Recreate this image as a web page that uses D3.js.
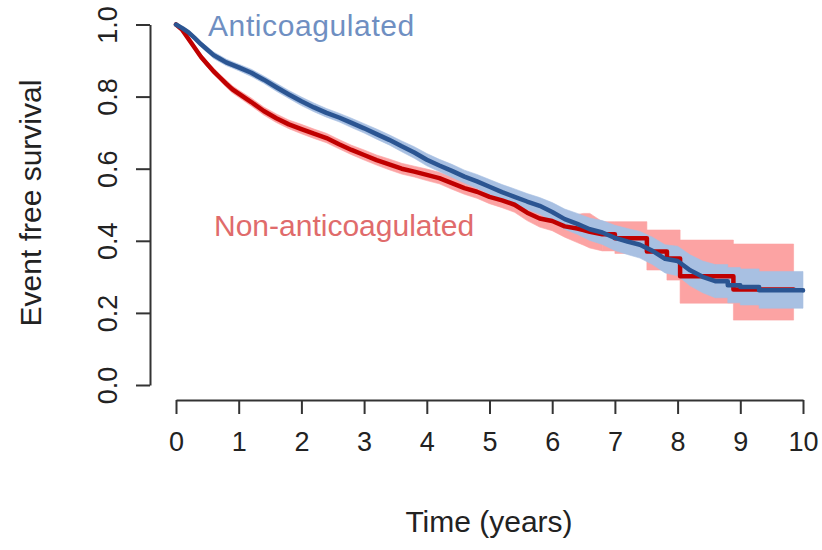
<!DOCTYPE html>
<html>
<head>
<meta charset="utf-8">
<script src="https://cdn.jsdelivr.net/npm/d3@7"></script>
<style>
  body { margin: 0; background: #fff; }
  svg text { font-family: "Liberation Sans", Arial, sans-serif; }
</style>
</head>
<body>
<div id="chart"></div>
<script>
// Anticoagulated group: time (years), survival, lower and upper CI
var antiTime  = [0, 0.1, 0.2, 0.3, 0.4, 0.5, 0.6, 0.7, 0.8, 0.9, 1.0, 1.2, 1.4, 1.6, 1.8, 2.0, 2.2, 2.4, 2.6, 2.8,
                 3.0, 3.2, 3.4, 3.6, 3.8, 4.0, 4.2, 4.4, 4.6, 4.8, 5.0, 5.2, 5.4, 5.6, 5.8, 6.0, 6.2, 6.4, 6.6, 6.8,
                 7.0, 7.2, 7.4, 7.6, 7.8, 8.0, 8.2, 8.4, 8.6, 8.8, 9.0, 9.3, 10.0];
var antiSurv  = [1.0, .990, .978, .962, .945, .930, .915, .905, .895, .888, .881, .866, .847, .826, .806, .787, .770, .755, .742, .727,
                 .712, .696, .680, .662, .645, .625, .609, .594, .578, .565, .550, .535, .522, .509, .497, .480, .460, .447, .432, .423,
                 .408, .398, .389, .372, .350, .344, .318, .300, .288, .277, .272, .263, .262];
var antiLower = [1.0, .986, .973, .956, .938, .922, .906, .896, .886, .879, .872, .856, .837, .815, .795, .775, .758, .743, .730, .714,
                 .699, .682, .666, .647, .629, .608, .592, .576, .560, .546, .530, .514, .500, .487, .474, .454, .432, .418, .401, .390,
                 .373, .362, .352, .334, .311, .303, .275, .256, .242, .228, .222, .213, .213];
var antiUpper = [1.0, .994, .983, .968, .952, .938, .924, .914, .904, .897, .890, .876, .857, .837, .817, .799, .782, .767, .754, .740,
                 .725, .710, .694, .677, .661, .642, .626, .612, .596, .584, .570, .556, .544, .531, .520, .506, .488, .476, .463, .456,
                 .443, .434, .426, .410, .389, .385, .361, .344, .334, .326, .322, .315, .315];

// Non-anticoagulated group
var nonTime  = [0, 0.1, 0.2, 0.3, 0.4, 0.5, 0.6, 0.7, 0.8, 0.9, 1.0, 1.2, 1.4, 1.6, 1.8, 2.0, 2.2, 2.4, 2.6, 2.8,
                3.0, 3.2, 3.4, 3.6, 3.8, 4.0, 4.2, 4.4, 4.6, 4.8, 5.0, 5.2, 5.4, 5.6, 5.8, 6.0, 6.2, 6.4, 6.5, 6.6, 6.8,
                7.0, 7.51, 7.83, 8.04, 8.89, 9.85];
var nonSurv  = [1.0, .985, .960, .935, .910, .890, .870, .853, .836, .820, .808, .785, .760, .740, .723, .710, .697, .685, .668, .652,
                .638, .624, .612, .600, .592, .583, .574, .560, .546, .536, .522, .512, .500, .478, .462, .455, .440, .434, .430, .425, .418,
                .407, .370, .351, .302, .265, .265];
var nonLower = [1.0, .980, .954, .929, .903, .882, .861, .844, .826, .810, .798, .774, .749, .728, .711, .697, .684, .672, .655, .639,
                .624, .610, .597, .585, .577, .567, .558, .543, .529, .518, .503, .492, .479, .456, .438, .428, .410, .395, .388, .380, .372,
                .365, .319, .291, .227, .180, .180];
var nonUpper = [1.0, .990, .966, .941, .917, .898, .879, .862, .846, .830, .818, .796, .771, .752, .735, .723, .710, .698, .681, .665,
                .652, .638, .627, .615, .607, .599, .590, .577, .563, .554, .541, .532, .521, .500, .486, .482, .470, .473, .476, .476, .453,
                .453, .430, .430, .402, .391, .391];

// Time after which the curves show distinct steps (events become sparse)
var antiStepFrom = 8.6;
var nonStepFrom = 6.8;

var xTicks = [0, 1, 2, 3, 4, 5, 6, 7, 8, 9, 10];
var yTicks = [0.0, 0.2, 0.4, 0.6, 0.8, 1.0];

var svgWidth = 822;
var svgHeight = 550;

var svg = d3.select("#chart")
    .append("svg")
    .attr("width", svgWidth)
    .attr("height", svgHeight);

// Scales
var xScale = d3.scaleLinear().domain([0, 10]).range([176, 803]);
var yScale = d3.scaleLinear().domain([0, 1]).range([385, 24.5]);

function toRows(time, surv, lower, upper) {
    return time.map((t, i) => ({ t: t, s: surv[i], lo: lower[i], hi: upper[i] }));
}
var antiRows = toRows(antiTime, antiSurv, antiLower, antiUpper);
var nonRows = toRows(nonTime, nonSurv, nonLower, nonUpper);

// Dense part drawn as a fine line, sparse tail drawn as steps
function drawGroup(rows, stepFrom, drawFn) {
    var dense = rows.filter(d => d.t <= stepFrom);
    var tail = rows.filter(d => d.t >= stepFrom);
    drawFn(dense, d3.curveLinear);
    drawFn(tail, d3.curveStepAfter);
}

function drawBand(rows, stepFrom, colour) {
    drawGroup(rows, stepFrom, function(part, curve) {
        var band = d3.area().curve(curve)
            .x(d => xScale(d.t))
            .y0(d => yScale(d.lo))
            .y1(d => yScale(d.hi));
        svg.append("path").datum(part).attr("d", band)
            .attr("fill", colour).attr("stroke", colour).attr("stroke-width", 0.6);
    });
}

function drawLine(rows, stepFrom, colour) {
    var path = "";
    drawGroup(rows, stepFrom, function(part, curve) {
        var line = d3.line().curve(curve)
            .x(d => xScale(d.t))
            .y(d => yScale(d.s));
        path += line(part);
    });
    svg.append("path").attr("d", path)
        .attr("fill", "none").attr("stroke", colour)
        .attr("stroke-width", 4.5).attr("stroke-linejoin", "round").attr("stroke-linecap", "round");
}

// Confidence bands (red first, blue on top)
drawBand(nonRows, nonStepFrom, "#fca3a3");
drawBand(antiRows, antiStepFrom, "#a8c0e2");

// Survival lines
drawLine(nonRows, nonStepFrom, "#c00000");
drawLine(antiRows, antiStepFrom, "#2b5592");

// Y axis (R style, labels rotated)
var yAxis = d3.axisLeft(yScale).tickValues(yTicks).tickSize(14).tickSizeOuter(0).tickFormat(d3.format(".1f"));
var yAxisG = svg.append("g").attr("transform", "translate(150,0)").call(yAxis);
yAxisG.select(".domain").attr("stroke", "#333").attr("stroke-width", 2);
yAxisG.selectAll(".tick line").attr("stroke", "#333").attr("stroke-width", 2);
yAxisG.selectAll(".tick text")
    .attr("x", null).attr("dy", null)
    .attr("transform", "translate(-33,0) rotate(-90)")
    .attr("text-anchor", "middle")
    .attr("font-size", 27)
    .attr("font-family", "Liberation Sans, Arial, sans-serif")
    .attr("fill", "#222");

// X axis
var xAxis = d3.axisBottom(xScale).tickValues(xTicks).tickSize(14).tickSizeOuter(0).tickFormat(d3.format("d"));
var xAxisG = svg.append("g").attr("transform", "translate(0,400)").call(xAxis);
xAxisG.select(".domain").attr("stroke", "#333").attr("stroke-width", 2);
xAxisG.selectAll(".tick line").attr("stroke", "#333").attr("stroke-width", 2);
xAxisG.selectAll(".tick text")
    .attr("y", 51).attr("dy", null)
    .attr("font-size", 27)
    .attr("font-family", "Liberation Sans, Arial, sans-serif")
    .attr("fill", "#222");

// Axis titles
svg.append("text")
    .attr("x", 489).attr("y", 532)
    .attr("text-anchor", "middle")
    .attr("font-size", 30)
    .attr("fill", "#222")
    .text("Time (years)");

svg.append("text")
    .attr("transform", "translate(41,203) rotate(-90)")
    .attr("text-anchor", "middle")
    .attr("font-size", 30)
    .attr("fill", "#222")
    .text("Event free survival");

// Group labels
svg.append("text")
    .attr("x", 208).attr("y", 36)
    .attr("font-size", 30)
    .attr("letter-spacing", 0.6)
    .attr("fill", "#6f8fc2")
    .text("Anticoagulated");

svg.append("text")
    .attr("x", 214).attr("y", 236)
    .attr("font-size", 30)
    .attr("fill", "#e06b6b")
    .text("Non-anticoagulated");
</script>
</body>
</html>
